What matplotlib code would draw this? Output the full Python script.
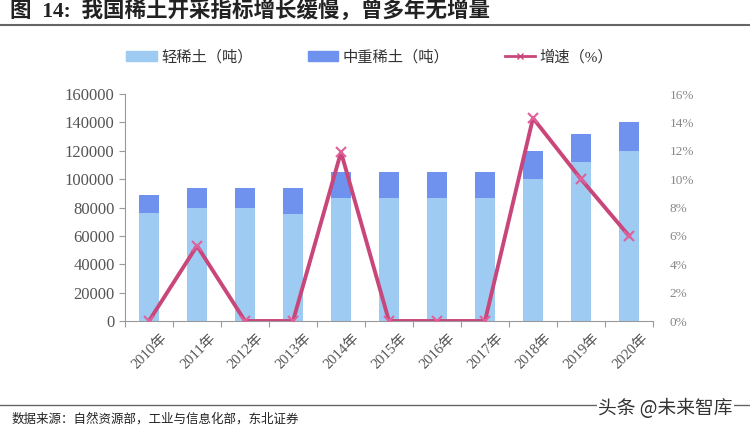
import numpy as np
import matplotlib.pyplot as plt
from matplotlib.lines import Line2D
from matplotlib.patches import Patch

plt.rcParams['font.family'] = ['Liberation Serif', 'Noto Sans CJK SC', 'DejaVu Sans']

# data
years = ["2010年", "2011年", "2012年", "2013年", "2014年", "2015年",
         "2016年", "2017年", "2018年", "2019年", "2020年"]
light = [76000, 80000, 80000, 75500, 87000, 87000, 87000, 87000, 100000, 112000, 120000]
total = [89000, 94000, 94000, 94000, 105000, 105000, 105000, 105000, 120000, 132000, 140000]
growth = [0, 5.3, 0, 0, 11.9, 0, 0, 0, 14.3, 10.0, 6.0]

heavy = np.array(total) - np.array(light)

c_light = "#9ECBF2"
c_heavy = "#6F92EE"
c_line = "#C9467B"
grey = "#555555"

fig = plt.figure(figsize=(7.5, 4.32), dpi=100)
ax = fig.add_axes([125/750, 1-321/432, 528/750, 227/432])
ax2 = ax.twinx()

x = np.arange(len(years))
ax.bar(x, light, width=0.42, color=c_light, zorder=2)
ax.bar(x, heavy, width=0.42, bottom=light, color=c_heavy, zorder=2)

ax2.plot(x, growth, color=c_line, lw=2.8, marker='x', ms=7, mew=1.5,
         markeredgecolor="#E0609A", zorder=3)

ax.set_xlim(-0.5, len(years) - 0.5)
ax.set_ylim(0, 160000)
ax.set_yticks(np.arange(0, 160001, 20000))
ax2.set_ylim(0, 16)
ax2.set_yticks(np.arange(0, 17, 2))
ax2.set_yticklabels([f"{v}%" for v in range(0, 17, 2)])

for s in ["top", "right"]:
    ax.spines[s].set_visible(False)
for s in ["top", "right", "left", "bottom"]:
    ax2.spines[s].set_visible(False)
ax.spines["left"].set_color("#999999")
ax.spines["bottom"].set_color("#999999")

ax.tick_params(axis='y', colors="#999999", labelcolor=grey, labelsize=12, length=4)
ax2.tick_params(axis='y', length=0, labelcolor="#888888", labelsize=9.5, pad=12)

# category ticks between bars
ax.set_xticks(np.arange(-0.5, len(years) + 0.5, 1))
ax.set_xticklabels([])
ax.tick_params(axis='x', colors="#999999", length=4)
for i, lab in enumerate(years):
    ax.text(i + 0.25, -0.045, lab, transform=ax.get_xaxis_transform(),
            rotation=45, ha='right', va='top', fontsize=10.5, color=grey,
            rotation_mode='anchor')

# legend
handles = [Patch(color=c_light), Patch(color=c_heavy),
           Line2D([], [], color=c_line, lw=2, marker='x', ms=5)]
labels = ["轻稀土（吨）", "中重稀土（吨）", "增速（%）"]
fig.legend(handles, labels, loc='center', bbox_to_anchor=(0.493, 1-57/432), ncol=3,
           frameon=False, fontsize=11, columnspacing=3.6, handlelength=2.0,
           handletextpad=0.3, labelcolor="#333333")

# title, rules and source
fig.text(10/750, 1-12/432, "图  14:  我国稀土开采指标增长缓慢，曾多年无增量",
         fontsize=15.5, fontweight='bold', va='center', ha='left', color="#222222")
fig.add_artist(Line2D([0, 1], [1-25/432, 1-25/432], color="#666666", lw=1.5))
fig.add_artist(Line2D([0, 1], [1-405/432, 1-405/432], color="#666666", lw=1))
fig.text(12/750, 1-419/432, "数据来源：自然资源部，工业与信息化部，东北证券",
         fontsize=9, va='center', ha='left', color="#222222")
fig.text(598/750, 1-409/432, "头条 @未来智库", fontsize=13.5, va='center', ha='left',
         color="#333333", family=['Noto Sans CJK SC', 'DejaVu Sans'],
         bbox=dict(facecolor='white', edgecolor='none', pad=1))

fig.savefig("out.png", dpi=100)
